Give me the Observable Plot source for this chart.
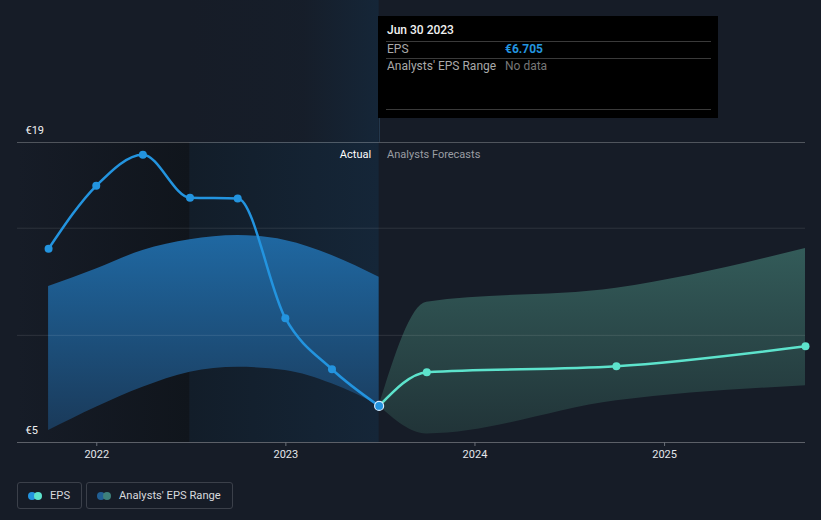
<!DOCTYPE html>
<html>
<head>
<meta charset="utf-8">
<script src="https://cdn.jsdelivr.net/npm/d3@7"></script>
<script src="https://cdn.jsdelivr.net/npm/@observablehq/plot@0.6"></script>
<style>
  html, body { margin: 0; padding: 0; background: #161c27; }
  body { font-family: Roboto, "Noto Sans", sans-serif; }
  #wrap { position: relative; width: 821px; height: 520px; overflow: hidden; }
  #chart { position: absolute; left: 0; top: 0; }
  .tip { position: absolute; left: 378px; top: 16px; width: 340px; height: 102px; background: #000; color: #fff; }
  .tip .title { position: absolute; left: 9px; top: 7px; font-size: 12px; font-weight: 500; color: #f2f2f2; }
  .tip .sep { position: absolute; left: 8px; width: 325px; height: 1px; background: #3a3a3a; }
  .tip .k { position: absolute; left: 9px; font-size: 12px; color: #a9a9a9; }
  .tip .v { position: absolute; left: 127px; font-size: 12px; }
  .stem { position: absolute; left: 379px; top: 118px; width: 1px; height: 24px; background: #24384c; }
  .legend { position: absolute; left: 17px; top: 482px; display: flex; gap: 4px; }
  .item { box-sizing: border-box; height: 27px; border: 1px solid #3b404a; border-radius: 3px; display: flex; align-items: center; padding: 0 11px 0 10px; font-size: 11.2px; color: #d7d9dd; }
  .dots { position: relative; width: 14px; height: 8px; margin-right: 8px; }
  .dots span { position: absolute; top: 0; width: 8px; height: 8px; border-radius: 50%; }
</style>
</head>
<body>
<div id="wrap">
  <div id="chart"></div>
  <div class="stem"></div>
  <div class="tip">
    <div class="title" id="tipTitle"></div>
    <div class="sep" style="top:25px"></div>
    <div class="k" style="top:26px" id="tipK1"></div>
    <div class="v" style="top:26px;color:#2394df;font-weight:700" id="tipV1"></div>
    <div class="sep" style="top:42px"></div>
    <div class="k" style="top:43px" id="tipK2"></div>
    <div class="v" style="top:43px;color:#777" id="tipV2"></div>
    <div class="sep" style="top:93px"></div>
  </div>
  <div class="legend" id="legend"></div>
</div>
<script>
// ---- data ----
const actualDates = ["2021-09-30","2021-12-31","2022-03-31","2022-06-30","2022-09-30","2022-12-31","2023-03-31","2023-06-30"];
const actualEps   = [14.04, 16.98, 18.43, 16.42, 16.39, 10.8, 8.42, 6.705];
const pastRangeLow  = [5.56, 6.65, 7.58, 8.28, 8.51, 8.36, 7.74, 6.73];
const pastRangeHigh = [12.28, 13.1, 13.96, 14.46, 14.66, 14.43, 13.73, 12.71];

const forecastDates = ["2023-06-30","2023-09-30","2024-09-30","2025-09-30"];
const forecastEps   = [6.705, 8.28, 8.56, 9.49];
const forecastLow   = [6.705, 5.4, 6.95, 7.65];
const forecastHigh  = [6.705, 11.55, 12.2, 14.05];

const xDomain = ["2021-08-01","2025-09-30"];
const pastShadeEnd = "2022-06-30";
const splitDate = "2023-06-30";
const xTicks = ["2022-01-01","2023-01-01","2024-01-01","2025-01-01"];
const yDomain = [5, 19];
const yLabels = [5, 19];
const yGrid = [10, 15];
const sectionLabels = ["Actual", "Analysts Forecasts"];
const tooltip = {title: "Jun 30 2023", k1: "EPS", v1: "€6.705", k2: "Analysts' EPS Range", v2: "No data"};
const legendItems = [
  {label: "EPS", colors: ["#2394df", "#5de3cc"]},
  {label: "Analysts' EPS Range", colors: ["#215f94", "#3e807b"]}
];

// ---- build ----
const parse = d3.utcParse("%Y-%m-%d");
const actual = actualDates.map((d, i) => ({date: parse(d), eps: actualEps[i], low: pastRangeLow[i], high: pastRangeHigh[i]}));
const forecast = forecastDates.map((d, i) => ({date: parse(d), eps: forecastEps[i], low: forecastLow[i], high: forecastHigh[i]}));
const split = parse(splitDate);

const chart = Plot.plot({
  width: 821,
  height: 472,
  marginTop: 142,
  marginBottom: 30,
  marginLeft: 17,
  marginRight: 16,
  style: {background: "transparent", fontFamily: "Roboto, sans-serif", fontSize: "11px", color: "#e4e6ea", overflow: "visible"},
  x: {type: "utc", domain: xDomain.map(parse)},
  y: {domain: yDomain, axis: null},
  marks: [
    Plot.rect([0], {x1: () => parse(xDomain[0]), x2: () => parse(pastShadeEnd), fill: "url(#pastShade)"}),
    Plot.rect([0], {x1: () => parse(pastShadeEnd), x2: () => split, fill: "url(#bandShade)"}),
    Plot.rect([0], {x1: () => parse(pastShadeEnd), x2: () => split, fill: "url(#bandTop)", className: "hltop"}),
    Plot.areaY(actual, {x: "date", y1: "low", y2: "high", fill: "url(#pastRange)", curve: "monotone-x"}),
    Plot.areaY(forecast, {x: "date", y1: "low", y2: "high", fill: "url(#fcRange)", curve: "monotone-x"}),
    Plot.ruleY(yGrid, {stroke: "#ffffff", strokeOpacity: 0.1}),
    Plot.ruleY([yDomain[1]], {stroke: "#ffffff", strokeOpacity: 0.25}),
    Plot.ruleY([yDomain[0]], {stroke: "#ffffff", strokeOpacity: 0.3}),
    Plot.axisX({ticks: xTicks.map(parse), tickFormat: "%Y", tickSize: 4, tickPadding: 4, stroke: "#6a6f78", fill: "#e4e6ea", label: null, fontSize: 11}),
    Plot.text(yLabels, {y: d => d, text: d => "€" + d, frameAnchor: "left", textAnchor: "start", dx: 8, dy: -12, fill: "#f0f0f0", fontSize: 11}),
    Plot.text([sectionLabels[0]], {x: () => split, y: () => yDomain[1], text: d => d, textAnchor: "end", dx: -8, dy: 12, fill: "#ffffff", fontSize: 11}),
    Plot.text([sectionLabels[1]], {x: () => split, y: () => yDomain[1], text: d => d, textAnchor: "start", dx: 8, dy: 12, fill: "#9a9da3", fontSize: 11}),
    Plot.line(forecast, {x: "date", y: "eps", stroke: "#5de3cc", strokeWidth: 2.5, curve: "monotone-x"}),
    Plot.dot(forecast.slice(1), {x: "date", y: "eps", r: 4, fill: "#5de3cc"}),
    Plot.line(actual, {x: "date", y: "eps", stroke: "#2394df", strokeWidth: 2.5, curve: "monotone-x"}),
    Plot.dot(actual.slice(0, -1), {x: "date", y: "eps", r: 4, fill: "#2394df"}),
    Plot.dot(actual.slice(-1), {x: "date", y: "eps", r: 4.5, fill: "#2394df", stroke: "#d6ecff", strokeWidth: 1.2})
  ]
});

// gradients
const svg = d3.select(chart);
const defs = svg.insert("defs", ":first-child");
function grad(id, horizontal, stops) {
  const g = defs.append("linearGradient").attr("id", id)
    .attr("x1", 0).attr("y1", 0).attr("x2", horizontal ? 1 : 0).attr("y2", horizontal ? 0 : 1);
  stops.forEach(([o, c, op]) => g.append("stop").attr("offset", o).attr("stop-color", c).attr("stop-opacity", op == null ? 1 : op));
}
grad("pastShade", true, [[0, "#161c27"], [1, "#10151c"]]);
grad("bandShade", true, [[0, "#121d29"], [1, "#152638"]]);
grad("bandTop", true, [[0, "#152638", 0], [0.6, "#152638", 0.15], [1, "#152638", 1]]);
grad("pastRange", false, [[0, "#1f68a2"], [1, "#1a3a5a"]]);
grad("fcRange", false, [[0, "#335b59"], [1, "#213438"]]);

// the faint highlight continues above the frame, up to the top of the picture
const yScale = chart.scale("y");
svg.selectAll(".hltop rect").attr("y", 0).attr("height", yScale.apply(yDomain[1]));

document.getElementById("chart").appendChild(chart);

document.getElementById("tipTitle").textContent = tooltip.title;
document.getElementById("tipK1").textContent = tooltip.k1;
document.getElementById("tipV1").textContent = tooltip.v1;
document.getElementById("tipK2").textContent = tooltip.k2;
document.getElementById("tipV2").textContent = tooltip.v2;

const legend = document.getElementById("legend");
legendItems.forEach(it => {
  const item = document.createElement("div");
  item.className = "item";
  const dots = document.createElement("div");
  dots.className = "dots";
  it.colors.forEach((c, i) => {
    const s = document.createElement("span");
    s.style.background = c;
    s.style.left = (i * 6) + "px";
    dots.appendChild(s);
  });
  const lbl = document.createElement("span");
  lbl.textContent = it.label;
  item.appendChild(dots);
  item.appendChild(lbl);
  legend.appendChild(item);
});
</script>
</body>
</html>
